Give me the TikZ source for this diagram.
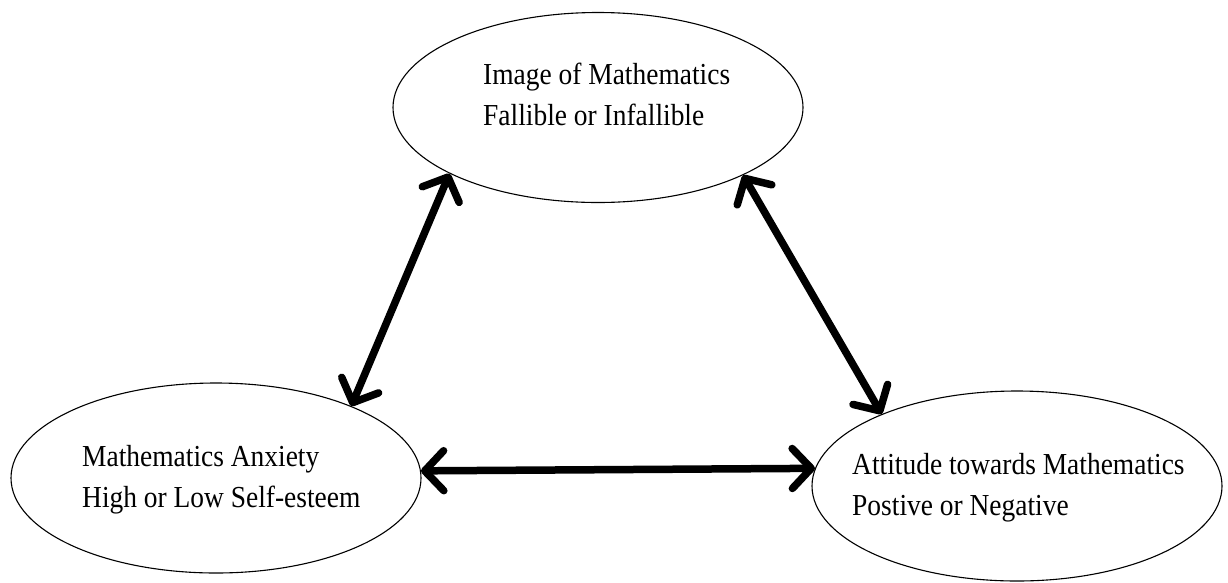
\documentclass[tikz,border=0pt]{standalone}
\usepackage{fontspec}
\setmainfont{Liberation Serif}[FakeStretch=0.9]
\usetikzlibrary{shapes.geometric,arrows.meta}
\tikzset{
  oval/.style={draw, ellipse, line width=1.1pt, minimum width=410pt, minimum height=190pt, inner sep=0pt},
  lbl/.style={anchor=base west, align=left, inner sep=0pt, font=\fontsize{30.5}{41}\selectfont},
  link/.style={line width=7.5pt, line cap=round, {Straight Barb[round,length=19pt,width=40pt]}-{Straight Barb[round,length=19pt,width=40pt]}}
}
\begin{document}
\begin{tikzpicture}[x=1pt,y=-1pt]
\useasboundingbox (0,0) rectangle (1228,582);
\fill[white] (0,0) rectangle (1228,582);
\node[oval] (img) at (598,107.5) {};
\node[oval] (anx) at (216,478) {};
\node[oval] (att) at (1017,486) {};
\node[lbl] (timg) at (483,125) {Image of Mathematics\\Fallible or Infallible};
\node[lbl] (tanx) at (82,507) {Mathematics Anxiety\\High or Low Self-esteem};
\node[lbl] (tatt) at (852,515) {Attitude towards Mathematics\\Postive or Negative};
\draw[link] (img.204.75) -- (anx.28.8);
\draw[link] (img.335) -- (att.152.8);
\draw[link] (anx.2.3) -- (att.175.4);
\end{tikzpicture}
\end{document}
